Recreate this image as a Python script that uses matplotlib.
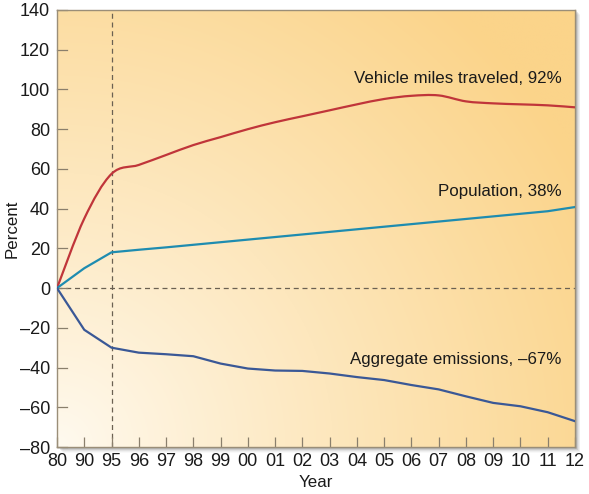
import numpy as np
import matplotlib
matplotlib.use("Agg")
import matplotlib.pyplot as plt
from matplotlib.patches import Rectangle, PathPatch
from matplotlib.path import Path
from matplotlib.colors import to_rgb

plt.rcParams['font.family'] = ['Liberation Sans', 'DejaVu Sans']

years = ["80", "90", "95", "96", "97", "98", "99", "00", "01", "02", "03",
         "04", "05", "06", "07", "08", "09", "10", "11", "12"]
vmt = [0, 35, 57.5, 62, 67, 72, 76, 80, 83.5, 86.5, 89.5,
       92.5, 95.2, 96.8, 97, 94, 93, 92.5, 92, 91]
population = [0, 10, 18, 19.3, 20.5, 21.8, 23.1, 24.4, 25.7, 27, 28.3,
              29.6, 30.9, 32.2, 33.5, 34.8, 36.1, 37.4, 38.7, 40.8]
emissions = [0, -21, -30, -32.5, -33.3, -34.3, -38, -40.5, -41.5, -41.7, -43,
             -44.8, -46.3, -48.8, -51, -54.5, -57.8, -59.5, -62.5, -67]
yticks = [-80, -60, -40, -20, 0, 20, 40, 60, 80, 100, 120, 140]

W, H = 589, 494
fig = plt.figure(figsize=(W / 100, H / 100), dpi=100)
left, right, bottom, top = 57 / W, 575 / W, 1 - 447 / H, 1 - 10 / H
ax = fig.add_axes([left, bottom, right - left, top - bottom])
ax.set_zorder(2)

# drop shadow
for i, a in enumerate([0.16, 0.12, 0.08, 0.05, 0.03]):
    off = i + 1.5
    fig.patches.append(Rectangle((left + off / W, bottom - off / H),
                                 right - left, top - bottom, transform=fig.transFigure,
                                 facecolor='#404040', alpha=a, edgecolor='none', zorder=-1))

# gradient background
c0 = np.array(to_rgb('#fffaf0'))
c1 = np.array(to_rgb('#fbd48a'))
gx, gy = np.meshgrid(np.linspace(0, 1, 300), np.linspace(0, 1, 300))
t = np.clip(np.sqrt((gx * 1.0) ** 2 + (gy * 0.85) ** 2) / 1.15, 0, 1) ** 0.9
img = c0[None, None, :] * (1 - t[..., None]) + c1[None, None, :] * t[..., None]
ax.imshow(img, extent=[0, 1, 0, 1], transform=ax.transAxes, origin='lower',
          aspect='auto', zorder=0)

x = np.arange(len(years))
ax.axhline(0, color='#6b6152', lw=0.9, ls=(0, (4, 3)), zorder=1)
ax.axvline(2, color='#6b6152', lw=0.9, ls=(0, (4, 3)), zorder=1)


def smooth_path(xs, ys):
    xs = np.asarray(xs, float)
    ys = np.asarray(ys, float)
    n = len(xs)
    verts = [(xs[0], ys[0])]
    codes = [Path.MOVETO]
    for i in range(n - 1):
        p0 = np.array([xs[max(i - 1, 0)], ys[max(i - 1, 0)]])
        p1 = np.array([xs[i], ys[i]])
        p2 = np.array([xs[i + 1], ys[i + 1]])
        p3 = np.array([xs[min(i + 2, n - 1)], ys[min(i + 2, n - 1)]])
        c1_ = p1 + (p2 - p0) / 6.0
        c2_ = p2 - (p3 - p1) / 6.0
        verts += [tuple(c1_), tuple(c2_), tuple(p2)]
        codes += [Path.CURVE4] * 3
    return Path(verts, codes)


ax.add_patch(PathPatch(smooth_path(x, vmt), facecolor='none', edgecolor='#c0353a',
                       lw=1.6, zorder=3))
ax.plot(x, population, color='#1e8cb0', lw=1.6, zorder=3)
ax.plot(x, emissions, color='#3a5896', lw=1.6, zorder=3, solid_joinstyle='round')

fs = 12.2
ax.text(18.5, 105.5, "Vehicle miles traveled, 92%", ha='right', va='center', fontsize=fs, color='#1a1a1a')
ax.text(18.5, 48.5, "Population, 38%", ha='right', va='center', fontsize=fs, color='#1a1a1a')
ax.text(18.5, -35.8, "Aggregate emissions, \u201367%", ha='right', va='center', fontsize=fs, color='#1a1a1a')

tfs = 13
ax.set_xlim(0, len(years) - 1)
ax.set_ylim(-80, 140)
ax.set_xticks(x)
ax.set_xticklabels(years)
ax.set_yticks(yticks)
ax.set_yticklabels([str(v).replace('-', '\u2013') for v in yticks])
ax.tick_params(direction='in', length=7, width=0.9, color='#8a7f6c', labelsize=tfs,
               labelcolor='#1a1a1a', pad=3)
ax.tick_params(axis='x', pad=4)
ax.tick_params(axis='y', length=0, pad=5)
for v in yticks:
    ax.plot([0, 0.35], [v, v], color='#8a7f6c', lw=0.9, zorder=2, clip_on=False)
for s in ax.spines.values():
    s.set_color('#9a8e78')
    s.set_linewidth(1.0)
ax.set_xlabel("Year", fontsize=fs, color='#1a1a1a')
ax.set_ylabel("Percent", fontsize=fs, color='#1a1a1a')
ax.xaxis.set_label_coords(0.5, -35 / 437, transform=ax.transAxes)
ax.yaxis.set_label_coords(-45 / 518, 0.5, transform=ax.transAxes)
ax.xaxis.label.set_va('center')
ax.yaxis.label.set_va('center')

fig.savefig("out.png", dpi=100)
